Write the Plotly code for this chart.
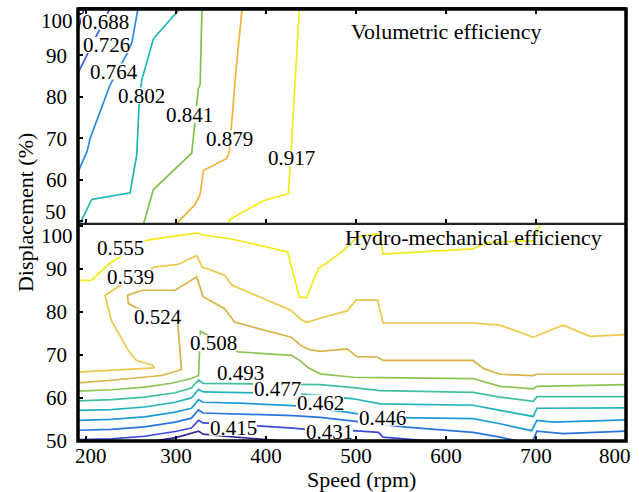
import plotly.graph_objects as go

# ---------------- data: top panel (volumetric efficiency) ----------------
vol_levels = ["0.688", "0.726", "0.764", "0.802", "0.841", "0.879", "0.917"]
vol_colors = ["#3b2fb5", "#3d55e0", "#2b8ce0", "#1db5b5", "#7ec24c", "#f0b23c", "#f2ec18"]
vol_x = [
    [189, 198],
    [191, 227],
    [191, 201.1, 204.4, 215.6, 226.7, 246.7, 251.1, 257.8],
    [193.3, 206.3, 248.9, 256.3, 259.2, 261.9, 274.8, 305],
    [263.5, 274.8, 317.4, 321.1, 324.8, 326.7, 328.8],
    [300.8, 321.1, 326.7, 330.4, 356.3, 359.2, 363.7, 367.4, 373.5],
    [358.1, 360, 397, 424.8, 427.4, 437],
]
vol_y = [
    [94.5, 101.5],
    [85.7, 101.5],
    [61.8, 66.8, 69.9, 76.4, 82.9, 90.9, 93.3, 101.5],
    [49.4, 55.2, 56.8, 66.0, 79.5, 84.1, 94.0, 101.5],
    [49.0, 57.6, 66.4, 74.8, 82.0, 82.9, 101.5],
    [49.4, 54.0, 56.4, 62.2, 65.1, 66.8, 78.8, 88.4, 101.5],
    [49.4, 50.4, 54.9, 56.6, 65.1, 101.5],
]
vol_label_x = [221.1, 222.2, 231.1, 261.1, 314.4, 358.9, 427.8]
vol_label_y = [98.1, 92.5, 86.1, 80.3, 75.7, 69.9, 65.1]

# ---------------- data: bottom panel (hydro-mechanical efficiency) ----------------
hm_levels = ["0.555", "0.539", "0.524", "0.508", "0.493", "0.477", "0.462", "0.446", "0.431", "0.415"]
hm_colors = ["#f3ea1c", "#ecc84a", "#d8b345", "#8cc454", "#40bfa0", "#22b2bb",
             "#1f9ad6", "#2a74e2", "#3c4ad8", "#3a2c98"]
hm_x = [
    [191, 206, 226, 267, 287, 306, 324, 330, 362, 424, 437, 445, 458, 469, 486, 501, 523, 527, 530, 630, 645, 697, 705],
    [191, 228, 276, 274, 256, 247, 228, 221, 239, 276, 302, 323, 329, 354, 362, 389, 428, 438, 445, 460, 490, 500, 524, 530, 630, 660, 697, 730, 760, 802],
    [191, 228, 284, 306, 302, 254, 247, 246, 262, 299, 323, 330, 354, 365, 428, 438, 447, 460, 490, 501, 523, 530, 630, 642, 660, 697, 701, 802],
    [191, 228, 265, 295, 317, 325, 327, 369, 398, 428, 438, 447, 460, 497, 527, 630, 660, 697, 701, 802],
    [191, 228, 265, 299, 317, 325, 330, 370, 430, 460, 497, 527, 630, 660, 697, 701, 802],
    [191, 228, 265, 299, 317, 325, 330, 370, 430, 460, 497, 527, 630, 660, 697, 701, 802],
    [191, 228, 265, 299, 317, 325, 330, 370, 430, 460, 490, 527, 630, 660, 695, 701, 719, 802],
    [191, 228, 265, 299, 317, 325, 330, 370, 430, 460, 527, 556, 630, 660, 695, 701, 730, 802],
    [191, 228, 265, 299, 317, 325, 330, 370, 430, 470, 497, 525, 530, 600],
    [268, 300, 325, 330, 360, 400, 420],
]
hm_y = [
    [87.3, 87.3, 91.2, 96.6, 97.2, 97.8, 98.3, 97.8, 96.9, 93.9, 83.4, 83.3, 90.0, 91.6, 94.2, 97.3, 98.1, 97.7, 93.4, 94.6, 96.1, 96.5, 100.6],
    [66.0, 66.4, 67.0, 67.6, 68.7, 71.0, 78.0, 83.8, 86.2, 90.4, 91.0, 93.1, 90.4, 88.5, 86.2, 83.8, 80.3, 78.3, 77.5, 78.5, 80.2, 82.7, 82.7, 77.4, 77.4, 76.9, 74.1, 76.9, 74.3, 74.7],
    [63.5, 64.1, 65.2, 66.6, 77.2, 81.1, 81.9, 83.8, 85.0, 85.0, 88.1, 83.5, 80.7, 77.6, 74.1, 72.3, 71.3, 70.8, 71.4, 69.6, 69.5, 68.7, 68.7, 66.8, 65.5, 65.2, 65.5, 65.5],
    [61.6, 61.9, 62.5, 63.4, 64.5, 65.2, 75.5, 70.7, 70.3, 69.9, 68.6, 67.0, 65.6, 64.8, 64.7, 64.5, 62.7, 62.1, 62.7, 63.1],
    [59.3, 59.6, 60.2, 61.2, 62.3, 64.2, 63.4, 63.3, 63.2, 63.1, 62.4, 61.7, 61.3, 60.2, 59.2, 60.3, 60.3],
    [57.1, 57.3, 57.9, 59.0, 60.0, 62.0, 61.4, 61.3, 61.0, 60.6, 59.8, 58.6, 58.3, 57.1, 55.7, 57.6, 57.7],
    [54.8, 55.0, 55.6, 56.7, 57.6, 59.6, 59.0, 58.8, 58.2, 57.5, 56.7, 55.5, 55.2, 54.0, 52.4, 54.8, 54.4, 54.9],
    [52.5, 52.7, 53.3, 54.4, 55.3, 57.2, 56.5, 56.3, 55.9, 55.5, 54.0, 53.2, 52.0, 50.9, 49.3, 52.3, 51.7, 52.3],
    [50.3, 50.5, 51.1, 52.2, 53.0, 54.8, 54.2, 53.8, 53.0, 52.2, 52.4, 52.0, 50.9, 49.7],
    [49.8, 50.8, 52.3, 51.6, 51.0, 50.4, 50.0],
]
hm_label_x = [238.3, 248.9, 280.0, 341.1, 371.1, 412.2, 460.0, 528.9, 470.0, 363.3]
hm_label_y = [94.7, 88.0, 78.9, 72.7, 65.8, 62.1, 58.9, 55.4, 52.2, 53.1]

x_ticks = [200, 300, 400, 500, 600, 700, 800]
y_ticks = [50, 60, 70, 80, 90, 100]

FONT = "Liberation Serif, Times New Roman, serif"

fig = go.Figure()
for lv, c, xs, ys in zip(vol_levels, vol_colors, vol_x, vol_y):
    fig.add_trace(go.Scatter(x=xs, y=ys, mode="lines", name=lv, xaxis="x2", yaxis="y2",
                             line=dict(color=c, width=1.7), hoverinfo="skip"))
for lv, c, xs, ys in zip(hm_levels, hm_colors, hm_x, hm_y):
    fig.add_trace(go.Scatter(x=xs, y=ys, mode="lines", name=lv, xaxis="x", yaxis="y",
                             line=dict(color=c, width=1.7), hoverinfo="skip"))

shapes = []
annotations = []


def note(x, y, text, size=21, xanchor="center", yanchor="middle", xref="paper", yref="paper", **kw):
    annotations.append(dict(x=x, y=y, xref=xref, yref=yref, text=text, showarrow=False,
                            font=dict(family=FONT, size=size, color="black"),
                            xanchor=xanchor, yanchor=yanchor, **kw))


# contour labels (white box breaks the line behind the text, like clabel)
for txt, lx, ly in zip(vol_levels, vol_label_x, vol_label_y):
    shapes.append(dict(type="rect", xref="x2", yref="y2", xsizemode="pixel", ysizemode="pixel",
                       xanchor=lx, yanchor=ly, x0=-24, x1=24, y0=-8, y1=8,
                       fillcolor="white", line=dict(width=0), layer="above"))
    note(lx, ly, txt, xref="x2", yref="y2")
for txt, lx, ly in zip(hm_levels, hm_label_x, hm_label_y):
    shapes.append(dict(type="rect", xref="x", yref="y", xsizemode="pixel", ysizemode="pixel",
                       xanchor=lx, yanchor=ly, x0=-24, x1=24, y0=-8, y1=8,
                       fillcolor="white", line=dict(width=0), layer="above"))
    note(lx, ly, txt, xref="x", yref="y")

D = 0.5035
# separator + outer frame
shapes.append(dict(type="line", xref="paper", yref="paper", x0=0, x1=1, y0=D, y1=D,
                   line=dict(color="#222222", width=1.5), layer="above"))
shapes.append(dict(type="rect", xref="paper", yref="paper", x0=0, x1=1, y0=0, y1=1,
                   line=dict(color="black", width=3.5), layer="above"))

# panel titles
note(0.6715, 0.947, "Volumetric efficiency", size=22)
note(0.7226, 0.470, "Hydro-mechanical efficiency", size=22)
# axis titles
note(-0.0967, 0.5276, "Displacement (%)", size=22, textangle=-90)
note(0.518, -0.09, "Speed (rpm)", size=22)
# edge tick labels nudged inward as in the original
note(0.0237, -0.035, str(x_ticks[0]))
note(0.9799, -0.035, str(x_ticks[-1]))
note(-0.005, 0.9724, str(y_ticks[-1]), xanchor="right")
note(-0.018, 0.531, str(y_ticks[0]), xanchor="right")
note(-0.005, 0.4735, str(y_ticks[-1]), xanchor="right")

xt_text = [""] + [str(v) for v in x_ticks[1:-1]] + [""]
tickfont = dict(family=FONT, size=21, color="black")
axis_common = dict(ticks="inside", ticklen=5, tickwidth=1.5, tickcolor="black",
                   showgrid=False, zeroline=False, tickfont=tickfont)

fig.update_layout(
    width=639, height=492,
    margin=dict(l=78, r=13, t=7, b=51),
    paper_bgcolor="white", plot_bgcolor="white",
    showlegend=False,
    font=dict(family=FONT, color="black"),
    xaxis=dict(domain=[0, 1], range=[191, 800], anchor="y", tickvals=x_ticks, ticktext=xt_text,
               showline=False, **axis_common),
    xaxis2=dict(domain=[0, 1], range=[191, 800], anchor="y2", tickvals=x_ticks, showticklabels=False,
                showline=True, linecolor="#222222", linewidth=1.5, mirror="ticks", **axis_common),
    yaxis=dict(domain=[0, D], range=[50, 100.5], anchor="x", tickvals=y_ticks,
               ticktext=[str(v) for v in y_ticks[:-1]] + [""], ticklabelstandoff=10,
               showline=False, **axis_common),
    yaxis2=dict(domain=[D, 1], range=[49.4, 101.2], anchor="x2", tickvals=y_ticks,
                ticktext=[""] + [str(v) for v in y_ticks[1:-1]] + [""], ticklabelstandoff=10,
                showline=False, **axis_common),
    shapes=shapes,
    annotations=annotations,
)

fig.write_html("out.html")
